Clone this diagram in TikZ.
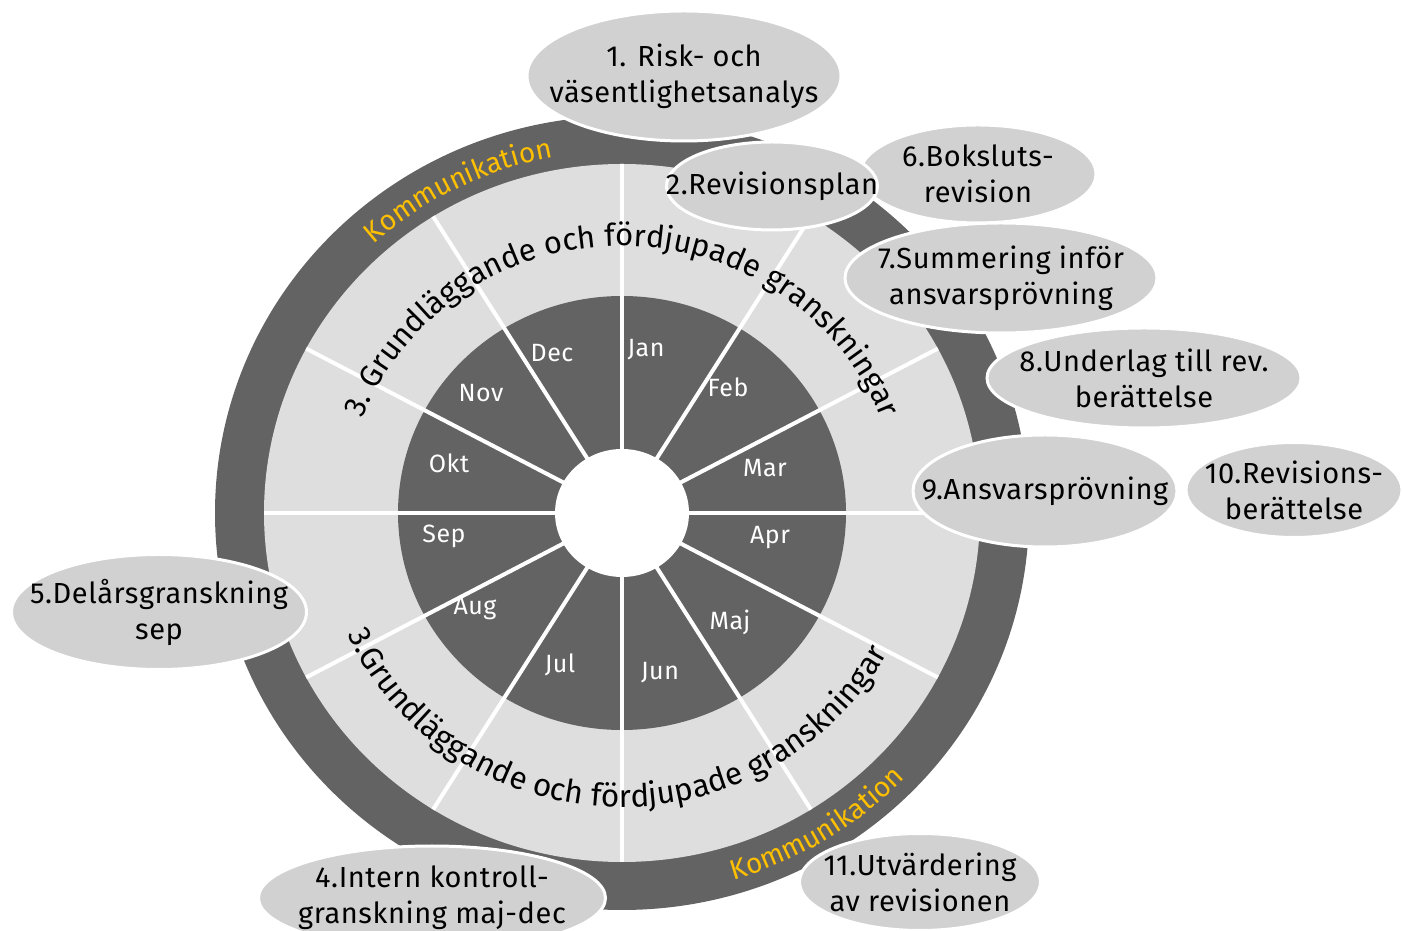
\documentclass[tikz,border=0pt]{standalone}
\usepackage{fontspec}
\setmainfont{Fira Sans}
\usetikzlibrary{shapes.geometric, decorations.text}
\definecolor{ringdark}{RGB}{99,99,99}
\definecolor{ringlight}{RGB}{222,222,222}
\definecolor{bubblegray}{RGB}{209,209,209}
\definecolor{kommorange}{RGB}{255,192,0}
\begin{document}
\begin{tikzpicture}[
    x=1pt, y=1pt,
    month/.style={text=white, anchor=base, inner sep=0,
      font=\fontsize{25}{30}\selectfont\addfontfeatures{LetterSpace=2}},
    bubble/.style={ellipse, fill=bubblegray, draw=white, line width=3, inner sep=0},
    every label/.style={align=center, text=black,
      font=\fontsize{29}{36}\selectfont\addfontfeatures{LetterSpace=2}},
    spoke/.style={white, line width=4}
  ]
  \clip (0,0) rectangle (1402,931);
  \coordinate (c) at (622,418);
  % wheel
  \fill[ringdark] (c) ellipse [x radius=407, y radius=397];
  \fill[ringlight] (c) ellipse [x radius=358, y radius=349];
  \fill[ringdark] (c) ellipse [x radius=224, y radius=217];
  \begin{scope}
    \clip (c) ellipse [x radius=358, y radius=349];
    \foreach \a in {0,27.5,57.5,90,122.5,152.5,180,207.5,237.5,270,302.5,332.5}
      \draw[spoke] (c) -- ++(\a:420);
  \end{scope}
  \fill[white] (c) ellipse [x radius=67, y radius=64];
  % months
  \node[month] (jan) at (646,574) {Jan};
  \node[month] (feb) at (728,534) {Feb};
  \node[month] (mar) at (765,454) {Mar};
  \node[month] (apr) at (770,387) {Apr};
  \node[month] (maj) at (730,301) {Maj};
  \node[month] (jun) at (660,251) {Jun};
  \node[month] (jul) at (560,258) {Jul};
  \node[month] (aug) at (475,316) {Aug};
  \node[month] (sep) at (444,388) {Sep};
  \node[month] (okt) at (449,458) {Okt};
  \node[month] (nov) at (481,529) {Nov};
  \node[month] (dec) at (552,569) {Dec};
  % texts round the wheel
  \begin{scope}[shift={(c)}]
    \path[decorate, decoration={text along path, text align=center,
        text={|\fontsize{31}{31}\selectfont|3. Grundläggande och fördjupade granskningar}}]
      (180:277 and 267) arc [start angle=180, end angle=0, x radius=277, y radius=267];
    \path[decorate, decoration={text along path, text align=center,
        text={|\fontsize{31.5}{31.5}\selectfont|3.Grundläggande och fördjupade granskningar}}]
      (178:302 and 294) arc [start angle=178, end angle=358, x radius=302, y radius=294];
    \path[decorate, decoration={text along path, text align=center,
        text={|\color{kommorange}\fontsize{28}{28}\selectfont|Kommunikation}}]
      (150:371 and 362) arc [start angle=150, end angle=83, x radius=371, y radius=362];
    \path[decorate, decoration={text along path, text align=center,
        text={|\color{kommorange}\fontsize{28}{28}\selectfont|Kommunikation}}]
      (-92:392 and 383) arc [start angle=-92, end angle=-25, x radius=392, y radius=383];
  \end{scope}
  % bubbles
  \node[bubble, minimum width=314, minimum height=130,
    label=center:{1. Risk- och\\väsentlighetsanalys}] (risk) at (684,855) {};
  \node[bubble, minimum width=236, minimum height=98,
    label=center:{6.Boksluts-\\revision}] (bokslut) at (978,757) {};
  \node[bubble, minimum width=211, minimum height=88,
    label=center:{2.Revisionsplan}] (plan) at (772,745) {};
  \node[bubble, minimum width=312, minimum height=110,
    label=center:{7.Summering inför\\ansvarsprövning}] (summering) at (1001,653) {};
  \node[bubble, minimum width=314, minimum height=100,
    label=center:{8.Underlag till rev.\\berättelse}] (underlag) at (1144,553) {};
  \node[bubble, minimum width=264, minimum height=112,
    label=center:{9.Ansvarsprövning}] (ansvar) at (1045,440) {};
  \node[bubble, minimum width=216, minimum height=95,
    label=center:{10.Revisions-\\berättelse}] (revber) at (1294,441) {};
  \node[bubble, minimum width=295, minimum height=115,
    label=center:{5.Delårsgranskning\\sep}] (delar) at (159,319) {};
  \node[bubble, minimum width=347, minimum height=104,
    label=center:{4.Intern kontroll-\\granskning maj-dec}] (intern) at (432,33) {};
  \node[bubble, minimum width=241, minimum height=97,
    label=center:{11.Utvärdering\\av revisionen}] (utvard) at (920,49) {};
\end{tikzpicture}
\end{document}
